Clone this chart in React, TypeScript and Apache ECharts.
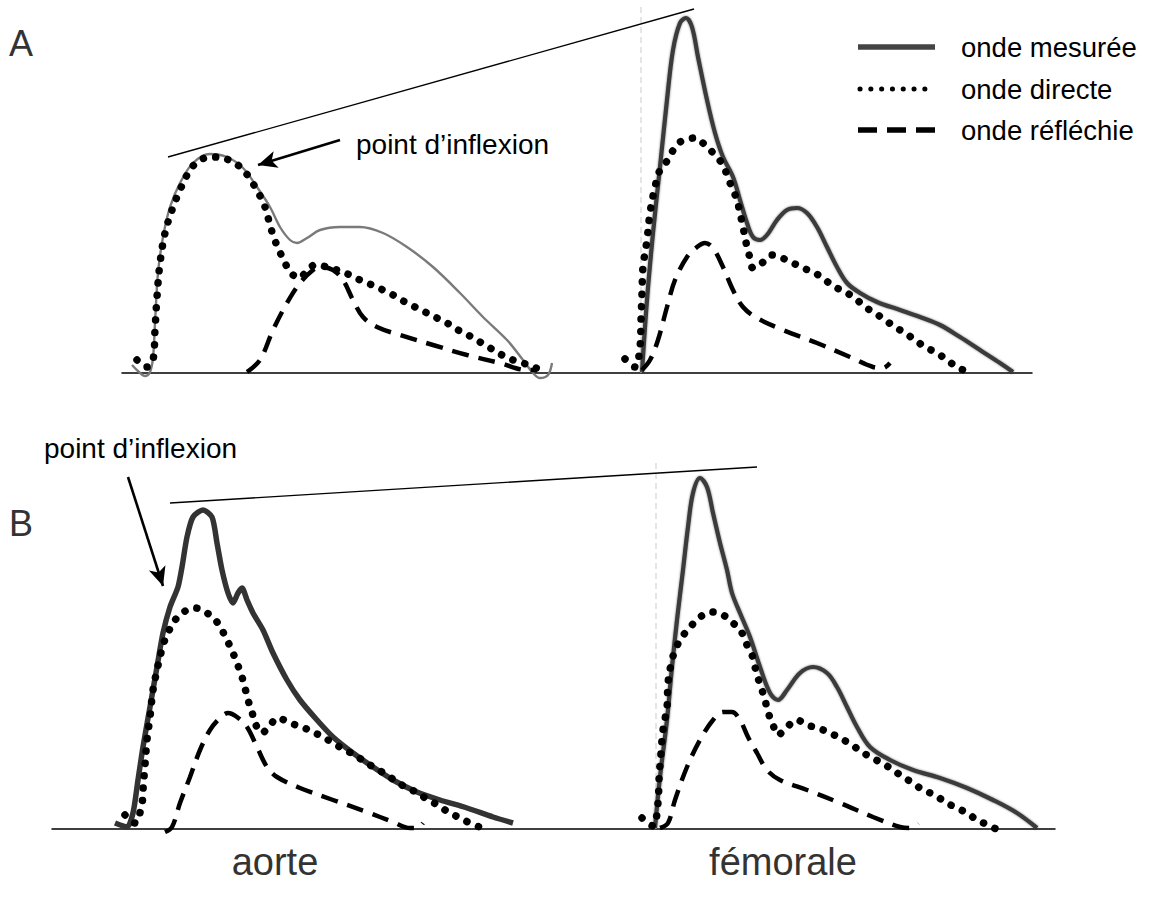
import React, { useEffect, useRef } from 'react';
import * as echarts from 'echarts';

// Panel A – aorte
const aAorteMesuree = [[132,8],[139,1],[145,-3],[150,1],[153,15],[155,50],[158,100],[163,136],[170,166],[180,190],[193,210],[210,219],[227,216],[243,205],[257,186],[270,166],[280,146],[290,133],[297,130],[307,135],[320,143],[340,146],[360,146],[383,140],[407,126],[433,106],[460,80],[483,56],[507,33],[523,13],[533,0],[540,-5],[548,-2],[552,10]];
const aAorteDirecte = [[137,13],[147,6],[153,13],[155,43],[157,76],[160,110],[165,140],[172,163],[180,183],[190,203],[200,213],[213,216],[223,215],[235,210],[245,201],[252,191],[258,181],[265,166],[270,148],[274,135],[279,123],[285,110],[291,100],[299,95],[307,102],[315,108],[327,106],[337,103],[350,98],[360,93],[372,88],[383,83],[393,78],[405,71],[415,66],[425,61],[437,55],[447,50],[458,43],[468,38],[480,31],[490,25],[502,18],[513,13],[523,10],[533,6],[543,3]];
const aAorteReflechie = [[247,1],[260,13],[273,43],[287,70],[300,90],[313,103],[320,106],[333,103],[343,93],[353,73],[363,56],[377,46],[400,38],[433,28],[467,18],[500,10],[527,3],[537,3]];

// Panel A – fémorale
const aFemMesuree = [[642,1],[647,73],[653,140],[660,206],[667,273],[673,323],[680,350],[686,355],[692,346],[698,316],[707,273],[715,240],[723,216],[733,196],[740,173],[747,150],[753,136],[760,133],[767,138],[777,153],[787,163],[797,165],[807,160],[817,146],[827,126],[837,106],[847,90],[860,80],[877,71],[900,63],[920,56],[940,48],[960,36],[980,23],[1000,10],[1013,1]];
const aFemDirecte = [[625,14],[635,6],[640,26],[641,53],[642,80],[643,106],[647,133],[650,160],[655,186],[660,203],[667,212],[672,221],[680,231],[695,235],[705,228],[715,218],[723,208],[728,195],[733,183],[737,173],[740,160],[743,146],[747,126],[750,115],[753,105],[762,110],[772,118],[782,115],[793,110],[803,105],[815,100],[825,93],[835,86],[847,80],[857,73],[865,66],[875,60],[885,53],[895,46],[905,40],[915,33],[925,26],[937,20],[947,13],[957,6],[968,1]];
const aFemReflechie = [[642,3],[650,13],[658,33],[667,66],[675,93],[687,116],[697,126],[705,130],[713,125],[723,106],[733,83],[743,66],[757,55],[783,43],[817,30],[850,16],[873,6],[883,5],[890,10]];

// Panel B – aorte
const bAorteMesuree = [[115,6],[127,2],[133,16],[138,49],[143,82],[150,122],[157,162],[163,196],[170,222],[178,242],[182,262],[187,292],[193,312],[203,319],[212,312],[217,286],[222,259],[228,236],[233,226],[238,236],[242,241],[247,229],[253,216],[263,199],[273,176],[287,149],[300,129],[317,109],[333,92],[353,76],[373,62],[393,49],[417,37],[440,29],[467,21],[493,12],[513,6]];
const bAorteDirecte = [[125,14],[135,6],[142,26],[143,39],[145,64],[147,89],[150,112],[153,139],[157,159],[160,172],[163,184],[168,196],[173,206],[182,216],[195,221],[207,216],[217,207],[223,197],[228,187],[233,176],[237,166],[242,152],[245,141],[248,129],[252,117],[255,106],[262,96],[270,104],[278,111],[290,106],[302,102],[313,97],[323,92],[333,86],[345,79],[355,74],[365,67],[375,61],[387,54],[397,47],[407,41],[418,36],[428,29],[438,24],[448,17],[458,12],[470,6],[482,1]];
const bAorteReflechie = [[165,-3],[172,2],[180,26],[190,52],[200,79],[210,99],[220,111],[228,116],[237,112],[247,102],[257,82],[267,62],[277,52],[300,41],[333,29],[367,17],[393,7],[410,1],[417,1],[423,6]];

// Panel B – fémorale
const bFemMesuree = [[655,1],[660,52],[667,109],[672,162],[677,209],[683,259],[688,302],[693,336],[700,351],[707,342],[713,316],[720,286],[727,259],[732,236],[740,216],[750,192],[760,162],[770,136],[778,129],[787,139],[800,156],[813,162],[827,156],[837,142],[847,122],[857,102],[870,82],[890,69],[913,59],[940,51],[967,41],[993,29],[1017,16],[1037,1]];
const bFemDirecte = [[642,11],[653,3],[658,26],[659,49],[661,76],[663,99],[667,122],[668,146],[672,169],[676,181],[682,192],[692,204],[700,212],[712,217],[723,214],[733,206],[742,196],[747,184],[752,174],[755,162],[758,151],[762,139],[765,129],[768,117],[773,104],[778,94],[787,102],[797,109],[807,104],[818,101],[830,96],[840,91],[852,84],[862,77],[872,71],[882,66],[893,59],[903,52],[913,46],[923,39],[935,34],[945,27],[957,21],[967,16],[977,9],[988,4],[998,-1]];
const bFemReflechie = [[660,1],[668,6],[675,29],[687,62],[700,89],[713,109],[723,117],[732,117],[740,109],[748,92],[757,76],[767,59],[780,49],[807,39],[840,26],[873,12],[900,2],[910,1],[918,6]];

// annotations (same value scales)
const aTangente = [[168,216],[694,364]];
const bTangente = [[170,326],[757,362]];
const aVerticale = [[641,0],[641,366]];
const bVerticale = [[656,0],[656,369]];
const aFleche = [[340,233],[258,208]];
const bFleche = [[128,352],[163,243]];

const legendLabels = ['onde mesurée', 'onde directe', 'onde réfléchie'];
const panelLabels = ['A', 'B'];
const siteLabels = ['aorte', 'fémorale'];
const inflexionLabel = 'point d\u2019inflexion';

const FONT = '"Liberation Sans", Arial, Helvetica, sans-serif';

const dotted = { type: [0.1, 12.3] as any, cap: 'round', width: 7.5, color: '#000' };
const dashed = { type: [17, 10] as any, cap: 'butt', width: 4.5, color: '#000' };

function line(name: string, data: number[][], g: number, lineStyle: any, extra: any = {}) {
  return {
    type: 'line', name, data, xAxisIndex: g, yAxisIndex: g,
    symbol: 'none', smooth: 0.35, clip: false, silent: true,
    lineStyle, ...extra,
  };
}

export default function App() {
  const ref = useRef<HTMLDivElement>(null);
  useEffect(() => {
    document.body.style.margin = '0';
    const chart = echarts.init(ref.current!, undefined, { renderer: 'svg' });
    const arrowML = (pts: number[][]) => ({
      silent: true,
      symbol: ['none', 'arrow'],
      symbolSize: [13, 19],
      label: { show: false },
      lineStyle: { color: '#000', width: 2.6, type: 'solid' },
      data: [[{ coord: pts[0] }, { coord: pts[1] }]],
    });
    const txt = (x: number, y: number, text: string, size: number, fill: string, center = false) => ({
      type: 'text', x, y,
      style: {
        text, fontSize: size, fontFamily: FONT, fill,
        textAlign: center ? 'center' : 'left', align: center ? 'center' : 'left',
        textVerticalAlign: 'middle', verticalAlign: 'middle',
      },
    });
    const option: any = {
      animation: false,
      backgroundColor: '#fff',
      grid: [
        { left: 122, top: 0, width: 910, height: 373 },
        { left: 52, top: 456, width: 1003, height: 373 },
      ],
      xAxis: [
        { type: 'value', gridIndex: 0, min: 122, max: 1032, axisLine: { show: true, onZero: false, lineStyle: { color: '#000', width: 1.5 } }, axisTick: { show: false }, axisLabel: { show: false }, splitLine: { show: false } },
        { type: 'value', gridIndex: 1, min: 52, max: 1055, axisLine: { show: true, onZero: false, lineStyle: { color: '#000', width: 1.5 } }, axisTick: { show: false }, axisLabel: { show: false }, splitLine: { show: false } },
      ],
      yAxis: [
        { type: 'value', gridIndex: 0, min: 0, max: 373, show: false },
        { type: 'value', gridIndex: 1, min: 0, max: 373, show: false },
      ],
      series: [
        line('verticale A', aVerticale, 0, { color: '#d4d4d4', width: 1.2, type: [6, 4] }, { smooth: false }),
        line('verticale B', bVerticale, 1, { color: '#d4d4d4', width: 1.2, type: [6, 4] }, { smooth: false }),
        line('tangente A', aTangente, 0, { color: '#000', width: 1.3 }, { smooth: false, markLine: arrowML(aFleche) }),
        line('tangente B', bTangente, 1, { color: '#000', width: 1.3 }, { smooth: false, markLine: arrowML(bFleche) }),

        line('onde mesurée', aAorteMesuree, 0, { color: '#7a7a7a', width: 2.4 }),
        line('onde directe', aAorteDirecte, 0, dotted),
        line('onde réfléchie', aAorteReflechie, 0, dashed),

        line('onde mesurée', aFemMesuree, 0, { color: '#3a3a3a', width: 4.2, shadowBlur: 2, shadowColor: 'rgba(0,0,0,0.5)' }),
        line('onde directe', aFemDirecte, 0, dotted),
        line('onde réfléchie', aFemReflechie, 0, dashed),

        line('onde mesurée', bAorteMesuree, 1, { color: '#333', width: 5.5 }, { smooth: 0.25 }),
        line('onde directe', bAorteDirecte, 1, dotted),
        line('onde réfléchie', bAorteReflechie, 1, dashed),

        line('onde mesurée', bFemMesuree, 1, { color: '#3a3a3a', width: 4.2, shadowBlur: 2, shadowColor: 'rgba(0,0,0,0.5)' }),
        line('onde directe', bFemDirecte, 1, dotted),
        line('onde réfléchie', bFemReflechie, 1, dashed),
      ],
      graphic: [
        txt(9, 43, panelLabels[0], 36, '#333'),
        txt(9, 523, panelLabels[1], 36, '#333'),
        txt(356, 144, inflexionLabel, 28, '#000'),
        txt(44, 448, inflexionLabel, 28, '#000'),
        { type: 'line', shape: { x1: 858, y1: 47, x2: 935, y2: 47 }, style: { stroke: '#444', lineWidth: 5.5 } },
        { type: 'line', shape: { x1: 860, y1: 89, x2: 935, y2: 89 }, style: { stroke: '#000', lineWidth: 5, lineDash: [0.1, 10.7], lineCap: 'round' } },
        { type: 'line', shape: { x1: 858, y1: 130, x2: 935, y2: 130 }, style: { stroke: '#000', lineWidth: 5.5, lineDash: [19, 10] } },
        txt(961, 47, legendLabels[0], 27.5, '#000'),
        txt(961, 89, legendLabels[1], 27.5, '#000'),
        txt(961, 130, legendLabels[2], 27.5, '#000'),
        txt(275, 862, siteLabels[0], 38, '#333', true),
        txt(783, 862, siteLabels[1], 38, '#333', true),
      ],
    };
    chart.setOption(option);
    return () => chart.dispose();
  }, []);
  return <div ref={ref} style={{ width: 1150, height: 906, position: 'absolute', left: 0, top: 0 }} />;
}
